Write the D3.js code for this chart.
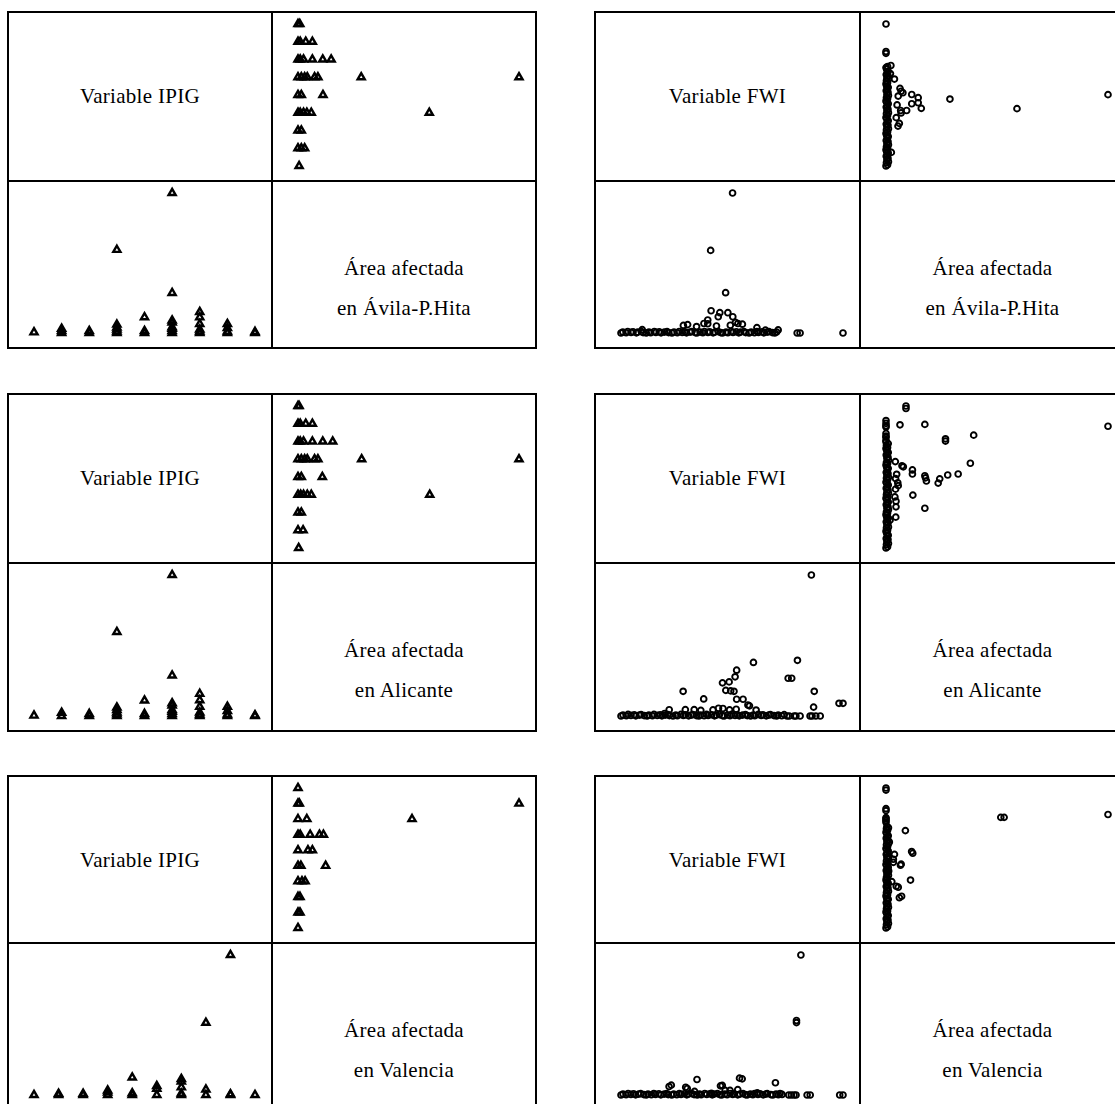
<!DOCTYPE html>
<html><head><meta charset="utf-8">
<script src="https://cdn.jsdelivr.net/npm/d3@7"></script>
<style>body{margin:0;background:#fff} svg{display:block}</style>
</head><body>
<script>
// ---------- DATA ----------
const regionNames = ["Ávila-P.Hita", "Alicante", "Valencia"];
const varLabels = ["Variable IPIG", "Variable FWI"];
const areaLabel = "Área afectada";

// IPIG level vs burnt area (relative units, max = 100)
const ipigAvila = [
 [1,0.5],
 [2,0],[2,1.5],[2,3],
 [3,0],[3,1.5],
 [4,0],[4,1],[4,2.5],[4,4],[4,6],[4,59.4],
 [5,0],[5,1.5],[5,11.3],
 [6,0],[6,1.5],[6,3],[6,4.2],[6,7.5],[6,9],[6,28.6],[6,100],
 [7,0],[7,1],[7,2.5],[7,6.5],[7,11.2],[7,15],
 [8,0],[8,1],[8,3.5],[8,6.5],
 [9,0],[9,0.8]
];
const ipigAlicante = [
 [1,0.3],
 [2,0],[2,2.3],
 [3,0],[3,1.5],
 [4,0],[4,1.2],[4,2.5],[4,4.2],[4,6],[4,59.6],
 [5,0],[5,1.5],[5,11],
 [6,0],[6,1.5],[6,3],[6,4.2],[6,7.5],[6,9],[6,28.8],[6,100],
 [7,0],[7,1],[7,2.5],[7,6.5],[7,11.2],[7,15.7],
 [8,0],[8,1],[8,3.5],[8,6.5],
 [9,0],[9,0.5]
];
const ipigValencia = [
 [1,0],
 [2,0],[2,0.9],
 [3,0],[3,0.9],
 [4,0],[4,1.8],[4,3.2],
 [5,0],[5,1.3],[5,12.5],
 [6,0],[6,4.5],[6,6.5],
 [7,0],[7,1],[7,5.5],[7,9.7],[7,11.5],
 [8,0],[8,4],[8,51.6],
 [9,0],[9,0.6],[9,100],
 [10,0]
];

// FWI (relative units) vs burnt area: scattered fires
const fwiAvila = [
 [100,0],[80.8,0],[79.5,0],
 [71,2.2],[65.3,2],[61.5,3.8],
 [55,6.3],[53,6.8],[51.9,7.6],[49.6,5.5],
 [50.7,11.6],[44.2,11.6],[44.9,14.5],[48.5,14.5],[41,15.9],
 [47.5,28.8],[40.8,59],[50.6,100],
 [39.5,9.3],[39.5,6.6],[37.8,6.8],[34.5,4.6],[28.6,5.4],[30.5,6],[43.4,5],[10.2,2.4]
];
// FWI of fires with (almost) no burnt area
const fwiAvilaSmall = [
 [0.7,0],[1.5,0.7],[3.0,0.2],[3.7,1.1],[5.2,0.4],[6.1,0.9],[7.6,0.1],[8.2,0.6],[9.8,1.0],[10.6,0.3],
 [12.0,0],[13.2,0.7],[14.0,0.2],[15.6,1.1],[16.3,0.4],[17.8,0.9],[18.6,0.1],[20.1,0.6],[21.3,1.0],[22.0,0.3],
 [23.5,0],[24.4,0.7],[25.9,0.2],[26.7,1.1],[28.1,0.4],[29.3,0.9],[30.0,0.1],[31.6,0.6],[32.4,1.0],[33.9,0.3],
 [34.6,0],[36.1,0.7],[37.3,0.2],[38.0,1.1],[39.6,0.4],[40.4,0.9],[41.9,0.1],[42.7,0.6],[44.2,1.0],[45.3,0.3],
 [46.1,0],[47.7,0.7],[48.5,0.2],[50.0,1.1],[50.8,0.4],[52.3,0.9],[53.4,0.1],[54.2,0.6],[55.7,1.0],[56.5,0.3],
 [58.0,0],[58.9,0.7],[60.4,0.2],[61.5,1.1],[62.2,0.4],[63.8,0.9],[64.6,0.1],[66.1,0.6],[66.9,1.0],[68.4,0.3],
 [69.5,0],[70.3,0.7]
];
const fwiAlicante = [
 [99,9],[100.8,9],[87.5,6.3],[87.8,17.5],[86.5,100],[80.2,39.5],[76,26.8],[77.6,26.8],
 [60.3,38],[52.7,32.5],[52,27.8],[49.3,24.2],[46.3,23.5],[47.8,18.2],[50,17.8],[51.5,17.5],
 [28.5,17.5],[37.8,12.1],[52.7,11.9],[55.6,11.9],[57.8,7.8],[58.5,7.2],[22.2,4.4],
 [29.5,4.5],[33.5,4.5],[36.5,4],[42,4.3],[44.5,5.5],[46.5,5.3],[49.5,4.3],[52.5,4.8],[61.5,4.2],[20.1,1.8],
 [75.5,0],[76.5,0],[78.7,0],[79.5,0],[81.4,0],[85.9,0],[86.8,0],[88.5,0],[90.5,0]
];
const fwiAlicanteSmall = [
 [0.4,0],[1.3,0.7],[2.8,0.2],[3.6,1.1],[4.9,0.4],[6.4,0.9],[7.1,0.1],[8.7,0.6],[9.5,1.0],[10.9,0.3],
 [12.2,0],[13.0,0.7],[14.6,0.2],[15.3,1.1],[16.8,0.4],[18.1,0.9],[18.9,0.1],[20.4,0.6],[21.6,1.0],[22.3,0.3],
 [23.9,0],[25.2,0.7],[25.9,0.2],[27.5,1.1],[28.6,0.4],[29.4,0.9],[31.0,0.1],[32.1,0.6],[32.9,1.0],[34.5,0.3],
 [35.6,0],[36.4,0.7],[38.0,0.2],[39.1,1.1],[39.8,0.4],[41.4,0.9],[42.7,0.1],[43.5,0.6],[44.9,1.0],[46.2,0.3],
 [47.0,0],[48.6,0.7],[49.7,0.2],[50.4,1.1],[52.0,0.4],[53.1,0.9],[53.9,0.1],[55.4,0.6],[56.7,1.0],[57.5,0.3],
 [59.0,0],[60.2,0.7],[60.9,0.2],[62.5,1.1],[63.8,0.4],[64.6,0.9],[66.1,0.1],[67.2,0.6],[68.0,1.0],[69.6,0.3],
 [70.8,0],[71.5,0.7],[73.1,0.2],[74.2,1.0]
];
const fwiValencia = [
 [100.5,0],[99,0],[85.7,0],[84.3,0],[81.5,99.6],[79.5,51.5],[79.5,53],
 [70,8.7],[53.8,12],[55,11.5],[34.6,11],[22,6],[23,7],[29.5,5.5],[30.2,4.6],[33.5,2.6],
 [46,6.8],[45.2,6.5],[47.3,3.3],[49.5,3.3],[53,3.8],[61.8,1.5],[41.1,1.2],
 [76,0],[77.2,0],[78.4,0],[79.3,0]
];
const fwiValenciaSmall = [
 [0.3,0],[1.2,0.7],[2.6,0.2],[3.5,1.1],[4.8,0.4],[6.0,0.9],[6.9,0.1],[8.3,0.6],[9.2,1.0],[10.6,0.3],
 [11.7,0],[12.5,0.7],[14.0,0.2],[15.1,1.1],[15.9,0.4],[17.4,0.9],[18.3,0.1],[19.8,0.6],[20.9,1.0],[21.6,0.3],
 [23.2,0],[24.1,0.7],[25.5,0.2],[26.6,1.1],[27.4,0.4],[28.9,0.9],[30.0,0.1],[30.8,0.6],[32.3,1.0],[33.3,0.3],
 [34.7,0],[35.8,0.7],[36.5,0.2],[38.1,1.1],[39.0,0.4],[40.5,0.9],[41.5,0.1],[42.3,0.6],[43.8,1.0],[44.9,0.3],
 [45.7,0],[47.2,0.7],[48.2,0.2],[49.6,1.1],[50.7,0.4],[51.4,0.9],[53.0,0.1],[54.0,0.6],[55.4,1.0],[56.4,0.3],
 [57.2,0],[58.7,0.7],[59.8,0.2],[60.6,1.1],[62.1,0.4],[63.1,0.9],[64.5,0.1],[65.6,0.6],[66.3,1.0],[67.9,0.3],
 [68.8,0],[70.3,0.7],[71.3,0.2],[72.1,1.1],[73.0,0.4]
];

// ---------- LAYOUT ----------
const W = 1115, H = 1104;
const svg = d3.select("body").append("svg").attr("width", W).attr("height", H);
const rowTop = [12, 394, 776], rowMid = [181, 563, 943], rowBot = [348, 731, 1110];
const colX = [[8, 272, 536], [595, 860, 1125]];
const PAD = {l: 26, r: 17, t: 12, b: 15};

function panel(col, row, data, varLabel, marker) {
  const [x0, xm, x1] = colX[col];
  const y0 = rowTop[row], ym = rowMid[row], y1 = rowBot[row];
  const g = svg.append("g");
  const vExt = d3.extent(data, d => d[0]);
  const aExt = d3.extent(data, d => d[1]);
  // lower-left: x = variable, y = area
  const xV = d3.scaleLinear().domain(vExt).range([x0 + PAD.l, xm - PAD.r]);
  const yA = d3.scaleLinear().domain(aExt).range([y1 - PAD.b, ym + PAD.t]);
  // upper-right: x = area, y = variable
  const xA = d3.scaleLinear().domain(aExt).range([xm + PAD.l, x1 - PAD.r]);
  const yV = d3.scaleLinear().domain(vExt).range([ym - PAD.b, y0 + PAD.t]);

  const sym = marker === "tri"
    ? d3.symbol(d3.symbolTriangle, 22)
    : d3.symbol(d3.symbolCircle, 26);
  const sw = marker === "tri" ? 2.4 : 1.9;

  g.selectAll("path.ll").data(data).join("path")
    .attr("d", sym).attr("transform", d => `translate(${xV(d[0])},${yA(d[1])})`)
    .attr("fill", "none").attr("stroke", "#000").attr("stroke-width", sw);
  g.selectAll("path.ur").data(data).join("path")
    .attr("d", sym).attr("transform", d => `translate(${xA(d[1])},${yV(d[0])})`)
    .attr("fill", "none").attr("stroke", "#000").attr("stroke-width", sw);

  // frame
  g.append("rect").attr("x", x0).attr("y", y0).attr("width", x1 - x0).attr("height", y1 - y0)
    .attr("fill", "none").attr("stroke", "#000").attr("stroke-width", 2);
  g.append("line").attr("x1", xm).attr("x2", xm).attr("y1", y0).attr("y2", y1)
    .attr("stroke", "#000").attr("stroke-width", 2);
  g.append("line").attr("x1", x0).attr("x2", x1).attr("y1", ym).attr("y2", ym)
    .attr("stroke", "#000").attr("stroke-width", 2);

  const font = "'Liberation Serif', 'DejaVu Serif', 'Times New Roman', serif";
  const txt = (x, y, s) => g.append("text").attr("x", x).attr("y", y)
    .attr("text-anchor", "middle").attr("dominant-baseline", "central")
    .style("font-family", font).style("font-size", "21px")
    .style("letter-spacing", "0.3px").text(s);
  txt((x0 + xm) / 2, y0 + 84, varLabel);
  txt((xm + x1) / 2, ym + 87, areaLabel);
  txt((xm + x1) / 2, ym + 127, "en " + regionNames[row]);
}

panel(0, 0, ipigAvila, varLabels[0], "tri");
panel(0, 1, ipigAlicante, varLabels[0], "tri");
panel(0, 2, ipigValencia, varLabels[0], "tri");
panel(1, 0, fwiAvilaSmall.concat(fwiAvila), varLabels[1], "circ");
panel(1, 1, fwiAlicanteSmall.concat(fwiAlicante), varLabels[1], "circ");
panel(1, 2, fwiValenciaSmall.concat(fwiValencia), varLabels[1], "circ");
</script>
</body></html>
